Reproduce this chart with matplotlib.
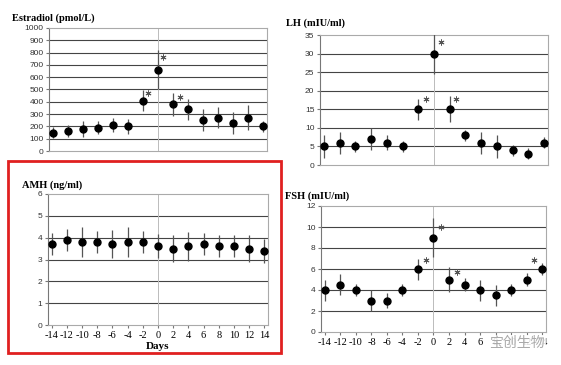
import matplotlib
matplotlib.use("Agg")
import matplotlib.pyplot as plt
import numpy as np

# days of sampling relative to the LH peak
days = [-14, -12, -10, -8, -6, -4, -2, 0, 2, 4, 6, 8, 10, 12, 14]

e2_mean = [150, 160, 180, 190, 210, 200, 410, 660, 380, 340, 250, 270, 230, 270, 200]
e2_err = [45, 50, 65, 55, 55, 60, 85, 160, 95, 85, 90, 85, 90, 100, 45]
e2_star_x = [-1.3, 0.7, 2.9]
e2_star_y = [470, 765, 440]

lh_mean = [5, 6, 5, 7, 6, 5, 15, 30, 15, 8, 6, 5, 4, 3, 6]
lh_err = [3, 3, 1.5, 3, 2, 1.5, 2.8, 5.5, 3.5, 1.5, 3, 3, 1.5, 1.5, 1.5]
lh_star_x = [-1.0, 0.9, 2.8]
lh_star_y = [17.8, 33.1, 17.8]

amh_mean = [3.7, 3.9, 3.8, 3.8, 3.7, 3.8, 3.8, 3.6, 3.5, 3.6, 3.7, 3.6, 3.6, 3.5, 3.4]
amh_err = [0.5, 0.5, 0.7, 0.5, 0.65, 0.7, 0.5, 0.55, 0.6, 0.65, 0.5, 0.5, 0.5, 0.6, 0.55]

fsh_mean = [4, 4.5, 4, 3, 3, 4, 6, 9, 5, 4.5, 4, 3.5, 4, 5, 6]
fsh_err = [1, 1, 0.6, 1, 0.7, 0.6, 1, 1.9, 1.2, 0.6, 1, 1, 0.6, 0.6, 0.6]
fsh_star_x = [-1.0, 1.0, 3.0, 12.9]
fsh_star_y = [6.9, 10.0, 5.7, 6.9]

W, H = 561, 365
fig = plt.figure(figsize=(W / 100, H / 100), dpi=100)
fig.patch.set_facecolor("white")

serif = "Liberation Serif"
sans = "Liberation Sans"


def px_axes(left, top, right, bottom):
    return fig.add_axes([left / W, 1 - bottom / H, (right - left) / W, (bottom - top) / H])


def panel(ax, mean, err, ymax, ystep, title, show_x, stars=None):
    ax.set_xlim(-14.5, 14.5)
    ax.set_ylim(0, ymax)
    ticks = np.arange(0, ymax + ystep / 2, ystep)
    ax.set_yticks(ticks)
    for t in ticks[1:-1]:
        ax.axhline(t, color="#444444", lw=0.8, zorder=1)
    ax.axvline(0, color="#bbbbbb", lw=0.7, zorder=1)
    ax.errorbar(days, mean, yerr=err, fmt="o", color="black", ms=5,
                ecolor="#555555", elinewidth=0.9, capsize=0, zorder=3)
    if stars:
        ax.scatter(stars[0], stars[1], marker=(6, 2, 0), s=14, color="#555555",
                   lw=0.7, zorder=3)
    for s in ax.spines.values():
        s.set_color("#aaaaaa")
        s.set_linewidth(0.8)
    ax.spines["left"].set_color("#777777")
    ax.tick_params(axis="y", labelsize=6, length=2, color="#777777", pad=2)
    for lab in ax.get_yticklabels():
        lab.set_fontfamily(sans)
        lab.set_color("#333333")
    if show_x:
        ax.set_xticks(days)
        ax.set_xticklabels([str(d) for d in days], fontfamily=serif, fontsize=7.5)
        ax.tick_params(axis="x", length=2, color="#777777", pad=2)
    else:
        ax.set_xticks([])
    ax.text(-0.14, 1.06, title, transform=ax.transAxes, fontfamily=serif,
            fontweight="bold", fontsize=7.5, ha="left", va="bottom")


ax1 = px_axes(49, 28, 267, 151)
panel(ax1, e2_mean, e2_err, 1000, 100, "Estradiol (pmol/L)", False, (e2_star_x, e2_star_y))
ax1.texts[0].set_position((-0.17, 1.04))

ax2 = px_axes(320, 35, 548, 165)
panel(ax2, lh_mean, lh_err, 35, 5, "LH (mIU/ml)", False, (lh_star_x, lh_star_y))
ax2.texts[0].set_position((-0.15, 1.05))

ax3 = px_axes(48, 194, 268, 325)
panel(ax3, amh_mean, amh_err, 6, 1, "AMH (ng/ml)", True)
ax3.texts[0].set_position((-0.12, 1.03))
ax3.set_xlabel("Days", fontfamily=serif, fontweight="bold", fontsize=8, labelpad=2)

ax4 = px_axes(321, 206, 546, 332)
panel(ax4, fsh_mean, fsh_err, 12, 2, "FSH (mIU/ml)", True, (fsh_star_x, fsh_star_y))
ax4.texts[0].set_position((-0.16, 1.04))

# red highlight box around the AMH panel
fig.patches.append(plt.Rectangle((8 / W, 1 - 353 / H), (281 - 8) / W, (353 - 161) / H,
                                 transform=fig.transFigure, fill=False,
                                 edgecolor="#e02020", lw=2))

# watermark
fig.text(517 / W, 1 - 343 / H, "宝创生物", fontfamily=["Noto Sans CJK SC", "DejaVu Sans"],
         fontsize=10, color="#aaaaaa", ha="center", va="center", zorder=10,
         bbox=dict(facecolor="white", edgecolor="none", alpha=0.85, pad=1))

fig.savefig("out.png", dpi=100)
